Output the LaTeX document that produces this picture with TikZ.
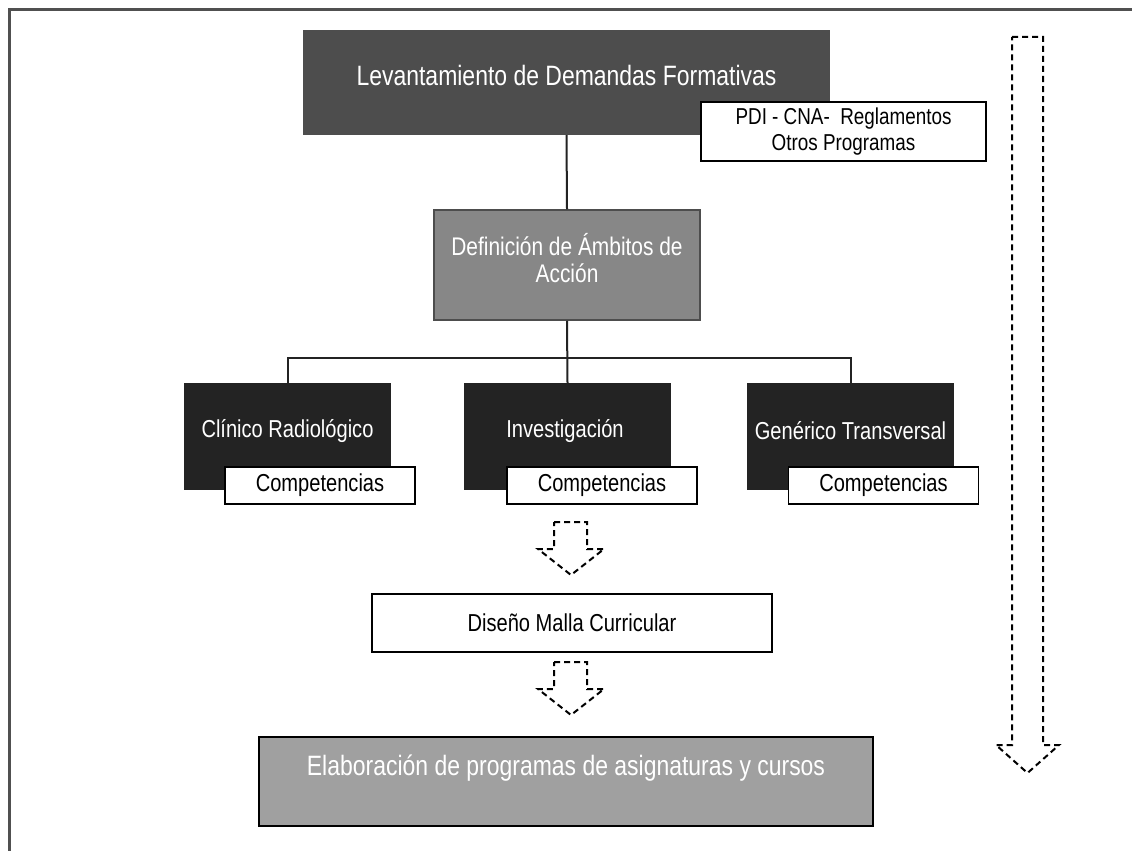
\documentclass[tikz,border=0pt]{standalone}
\usepackage{fontspec}
\setmainfont{Liberation Sans}[FakeStretch=0.82]
\usepackage{xcolor}
\usepackage{tikz}
\definecolor{levgray}{HTML}{4D4D4D}
\definecolor{defgray}{HTML}{878787}
\definecolor{nearblack}{HTML}{232323}
\definecolor{elabgray}{HTML}{A0A0A0}
\definecolor{framegray}{HTML}{505050}

\begin{document}
\begin{tikzpicture}[x=1pt, y=-1pt,
    filled/.style={rectangle, inner sep=0pt},
    whitebox/.style={rectangle, draw=black, line width=1.5pt, fill=white, inner sep=0pt, align=center},
    wtext/.style={text=white, align=center},
    link/.style={line width=2pt, draw=nearblack},
    dasharrow/.style={draw=black, line width=2pt, dash pattern=on 6pt off 4pt}]
    \useasboundingbox (0,0) rectangle (1132,851);

    % frame
    \draw[line width=3pt, framegray] (9.5,851) -- (9.5,10) -- (1132,10);

    % Levantamiento
    \node[filled, fill=levgray, minimum width=527pt, minimum height=105pt] (lev) at (566.5,82.5) {};
    \node[wtext, font=\fontsize{28}{32}\selectfont] (lev-text) at (566.5,75) {Levantamiento de Demandas Formativas};
    \node[whitebox, minimum width=285pt, minimum height=59pt, font=\fontsize{23}{26}\selectfont] (pdi) at (843.5,131.5) {PDI - CNA-\ \ Reglamentos\\Otros Programas};

    % Definicion
    \node[filled, fill=defgray, draw=levgray, line width=1.5pt, minimum width=266pt, minimum height=110pt] (def) at (567,265) {};
    \node[wtext, font=\fontsize{25.5}{27}\selectfont] (def-text) at (567,258) {Definición de Ámbitos de\\Acción};

    % Clinico Radiologico
    \node[filled, fill=nearblack, minimum width=207pt, minimum height=107pt] (cli) at (287.5,436.5) {};
    \node[wtext, font=\fontsize{24.5}{28}\selectfont] (cli-text) at (287.5,431) {Clínico Radiológico};
    \node[whitebox, minimum width=190pt, minimum height=37pt, font=\fontsize{24.5}{28}\selectfont] (cli-comp) at (320,485.5) {Competencias};

    % Investigacion
    \node[filled, fill=nearblack, minimum width=207pt, minimum height=107pt] (inv) at (567.5,436.5) {};
    \node[wtext, font=\fontsize{24.5}{28}\selectfont] (inv-text) at (565,431) {Investigación};
    \node[whitebox, minimum width=190pt, minimum height=37pt, font=\fontsize{24.5}{28}\selectfont] (inv-comp) at (602,485.5) {Competencias};

    % Generico Transversal
    \node[filled, fill=nearblack, minimum width=207pt, minimum height=107pt] (gen) at (850.5,436.5) {};
    \node[wtext, font=\fontsize{24.5}{28}\selectfont] (gen-text) at (850.5,431) {Genérico Transversal};
    \node[whitebox, minimum width=190pt, minimum height=37pt, font=\fontsize{24.5}{28}\selectfont] (gen-comp) at (883.5,485.5) {Competencias};

    % links
    \coordinate (bus) at (567,358);
    \draw[link] (lev.south) -- (def.north);
    \draw[link] (def.south) -- (inv.north);
    \draw[link] (cli.north) |- (bus) -| (gen.north);

    % Malla
    \node[whitebox, minimum width=400pt, minimum height=58pt, font=\fontsize{24.5}{28}\selectfont] (malla) at (572,623) {Diseño Malla Curricular};

    % Elaboracion
    \node[filled, fill=elabgray, draw=black, line width=2pt, minimum width=614pt, minimum height=89pt] (elab) at (566,781.5) {};
    \node[wtext, font=\fontsize{28}{32}\selectfont] (elab-text) at (566,768) {Elaboración de programas de asignaturas y cursos};

    % dashed arrows
    \draw[dasharrow] (554,522) -- ++(33,0) -- ++(0,27) -- ++(17,0) -- ++(-33,26) -- ++(-33,-26) -- ++(16,0) -- cycle;
    \draw[dasharrow] (554,662) -- ++(33,0) -- ++(0,27) -- ++(17,0) -- ++(-33,26) -- ++(-33,-26) -- ++(16,0) -- cycle;
    \draw[dasharrow] (1012,37) -- ++(31,0) -- ++(0,708) -- ++(16,0) -- ++(-31.5,28) -- ++(-31.5,-28) -- ++(16,0) -- cycle;
\end{tikzpicture}
\end{document}
